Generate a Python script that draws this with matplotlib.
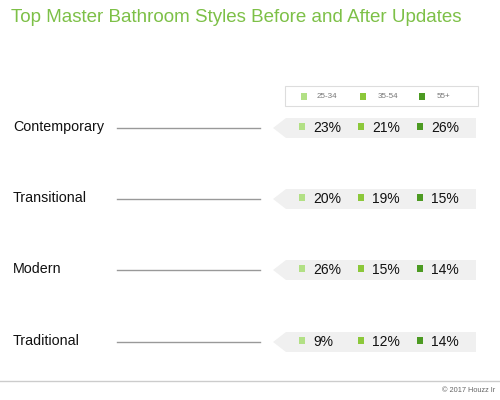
import matplotlib
matplotlib.use("Agg")
import matplotlib.pyplot as plt
from matplotlib.patches import Polygon, Rectangle

plt.rcParams['font.family'] = ['Liberation Sans', 'DejaVu Sans']

title = "Top Master Bathroom Styles Before and After Updates"
categories = ["Contemporary", "Transitional", "Modern", "Traditional"]
age_groups = ["25-34", "35-54", "55+"]
v_25_34 = [23, 20, 26, 9]
v_35_54 = [21, 19, 15, 12]
v_55_plus = [26, 15, 14, 14]
credit = "© 2017 Houzz Ir"

colors = ["#b2e085", "#8cc83a", "#4c9a22"]
title_color = "#7dc047"
series = [v_25_34, v_35_54, v_55_plus]

fig = plt.figure(figsize=(5, 4), dpi=100)
ax = fig.add_axes([0, 0, 1, 1])
ax.set_xlim(0, 500)
ax.set_ylim(400, 0)
ax.axis('off')

ax.text(11, 17, title, color=title_color, fontsize=13.5, va='center', ha='left')

# legend box
ax.add_patch(Rectangle((285, 86), 193, 20, facecolor='white', edgecolor='#dddddd', lw=0.8))
leg_sq_x = [301, 360, 419]
leg_tx_x = [317, 378, 437]
for i, lab in enumerate(age_groups):
    ax.add_patch(Rectangle((leg_sq_x[i], 92.5), 6, 7, facecolor=colors[i], edgecolor='none'))
    ax.text(leg_tx_x[i], 96, lab, fontsize=5.8, color='#777777', va='center', ha='left')

row_y = [128, 199, 270, 342]
sq_x = [299, 358, 417]
tx_x = [313, 372, 431]
for r, cat in enumerate(categories):
    y = row_y[r]
    ax.text(13, y - 1, cat, fontsize=10.3, color='#111111', va='center', ha='left')
    ax.plot([117, 260], [y, y], color='#999999', lw=1.0)
    band = Polygon([(273, y), (286, y - 10), (476, y - 10), (476, y + 10), (286, y + 10)],
                   closed=True, facecolor='#f0f0f0', edgecolor='none')
    ax.add_patch(band)
    for i in range(3):
        ax.add_patch(Rectangle((sq_x[i], y - 5), 6, 7, facecolor=colors[i], edgecolor='none'))
        ax.text(tx_x[i], y, f"{series[i][r]}%", fontsize=10, color='#111111', va='center', ha='left')

ax.plot([0, 500], [381, 381], color='#cccccc', lw=1.0)
ax.text(495, 390, credit, fontsize=5.3, color='#666666', va='center', ha='right')

fig.savefig("out.png", dpi=100, facecolor='white')
